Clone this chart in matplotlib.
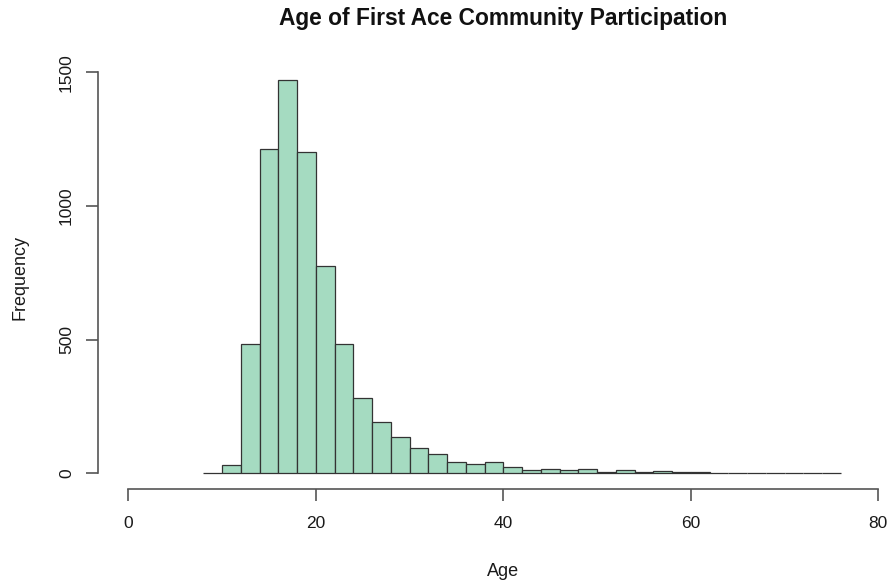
import numpy as np
import matplotlib.pyplot as plt

plt.rcParams['font.family'] = ['Liberation Sans', 'DejaVu Sans']

# Histogramme des âges (classes de 2 ans, de 8 à 76)
bin_edges = list(range(8, 78, 2))
counts = [2, 30, 483, 1213, 1473, 1203, 775, 484, 283, 190,
          134, 93, 71, 44, 36, 41, 22, 11, 17, 11,
          17, 6, 13, 4, 8, 3, 5, 2, 1, 1,
          1, 0, 1, 1]
x_ticks = [0, 20, 40, 60, 80]
y_ticks = [0, 500, 1000, 1500]

W, H = 891, 585
fig = plt.figure(figsize=(W / 100, H / 100), dpi=100)
# zone de tracé façon R (xlim 0..80, ylim 0..1500, extension de 4 %)
left, right, bottom, top = 98.3, 908.3, 489.3, 56.3
ax = fig.add_axes([left / W, 1 - bottom / H, (right - left) / W, (bottom - top) / H])

ax.bar(bin_edges[:-1], counts, width=2, align='edge',
       color='#a5dbc1', edgecolor='#333333', linewidth=0.9)

ax.set_xlim(-3.2, 83.2)
ax.set_ylim(-60, 1560)

for s in ['top', 'right']:
    ax.spines[s].set_visible(False)
ax.spines['bottom'].set_bounds(0, 80)
ax.spines['left'].set_bounds(0, 1500)
for s in ['bottom', 'left']:
    ax.spines[s].set_color('#555555')
    ax.spines[s].set_linewidth(1.2)

ax.set_xticks(x_ticks)
ax.set_yticks(y_ticks)
ax.tick_params(axis='both', length=8.5, width=1.2, color='#555555',
               labelsize=12.5, labelcolor='#1a1a1a')
ax.tick_params(axis='x', pad=11)
ax.tick_params(axis='y', pad=9, labelrotation=90)
for lab in ax.get_yticklabels():
    lab.set_va('center')

fig.text(503 / W, 1 - 18 / H, 'Age of First Ace Community Participation',
         ha='center', va='center', fontsize=16.4, fontweight='bold', color='#111111')
fig.text(503 / W, 1 - 571 / H, 'Age', ha='center', va='center',
         fontsize=13, color='#1a1a1a')
fig.text(20 / W, 1 - 277 / H, 'Frequency', ha='center', va='center',
         rotation=90, fontsize=13, color='#1a1a1a')

fig.savefig('out.png', dpi=100)
